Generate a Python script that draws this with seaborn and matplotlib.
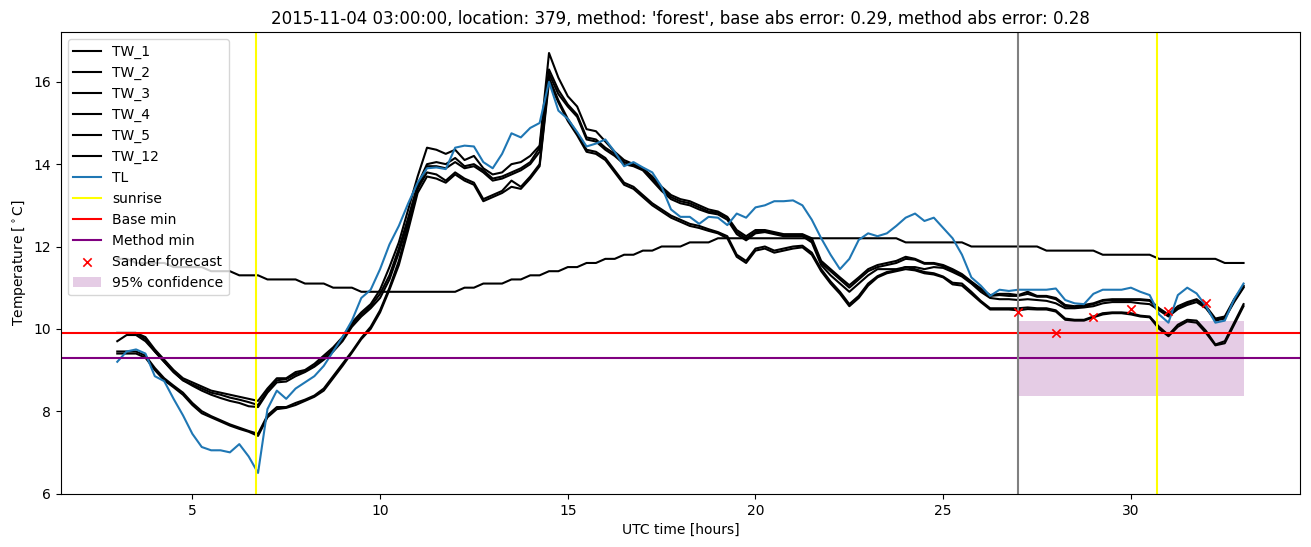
import numpy as np
import pandas as pd
import matplotlib
matplotlib.use("Agg")
import matplotlib.pyplot as plt
import seaborn as sns

# sampling grid: every 15 minutes from 03:00 to 33:00 UTC
hours = 3.0 + 0.25 * np.arange(121)

TW_1 = [9.9, 9.9, 9.9, 9.8,  9.5, 9.25, 9.0, 8.8,  8.7, 8.6, 8.5, 8.45,  8.4, 8.35, 8.3, 8.25,
        8.55, 8.8, 8.8, 8.95,  9.0, 9.15, 9.35, 9.55,  9.8, 10.15, 10.4, 10.6,  10.95, 11.5, 12.1, 12.9,
        13.7, 14.4, 14.35, 14.25,  14.35, 14.1, 14.2, 13.9,  13.75, 13.8, 14.0, 14.05,  14.2, 14.45, 16.7, 16.1,
        15.65, 15.4, 14.85, 14.8,  14.55, 14.3, 14.1, 14.0,  13.9, 13.7, 13.45, 13.25,  13.15, 13.1, 13.0, 12.9,
        12.85, 12.72, 12.4, 12.25,  12.4, 12.4, 12.35, 12.3,  12.3, 12.3, 12.2, 11.65,  11.45, 11.25, 11.06, 11.25,
        11.45, 11.55, 11.6, 11.65,  11.75, 11.7, 11.6, 11.6,  11.55, 11.45, 11.33, 11.15,  10.98, 10.82, 10.85, 10.85,
        10.82, 10.9, 10.8, 10.8,  10.75, 10.58, 10.55, 10.58,  10.62, 10.7, 10.72, 10.72,  10.72, 10.72, 10.7, 10.5,
        10.35, 10.55, 10.65, 10.72,  10.55, 10.25, 10.3, 10.72,  11.05]
TW_2 = [9.9, 9.9, 9.9, 9.75,  9.45, 9.2, 8.95, 8.75,  8.65, 8.55, 8.45, 8.4,  8.33, 8.28, 8.22, 8.15,
        8.5, 8.75, 8.78, 8.9,  8.98, 9.1, 9.3, 9.5,  9.75, 10.1, 10.35, 10.55,  10.85, 11.3, 11.95, 12.7,
        13.5, 14.0, 14.05, 14.0,  14.15, 13.95, 14.0, 13.85,  13.65, 13.7, 13.8, 13.9,  14.05, 14.4, 16.3, 15.8,
        15.45, 15.2, 14.65, 14.6,  14.4, 14.25, 14.05, 13.98,  13.88, 13.65, 13.4, 13.2,  13.1, 13.05, 12.95, 12.85,
        12.82, 12.7, 12.35, 12.2,  12.35, 12.38, 12.32, 12.28,  12.28, 12.28, 12.15, 11.6,  11.4, 11.2, 11.0, 11.2,
        11.4, 11.5, 11.55, 11.6,  11.7, 11.68, 11.58, 11.58,  11.52, 11.42, 11.3, 11.12,  10.95, 10.8, 10.82, 10.8,
        10.8, 10.85, 10.78, 10.78,  10.72, 10.55, 10.52, 10.55,  10.6, 10.68, 10.7, 10.7,  10.7, 10.7, 10.68, 10.48,
        10.32, 10.5, 10.62, 10.7,  10.52, 10.22, 10.28, 10.68,  11.02]
TW_3 = [9.7, 9.85, 9.85, 9.7,  9.45, 9.2, 8.95, 8.75,  8.62, 8.5, 8.4, 8.32,  8.25, 8.2, 8.12, 8.1,
        8.45, 8.7, 8.72, 8.85,  8.95, 9.08, 9.25, 9.45,  9.7, 10.05, 10.3, 10.5,  10.75, 11.2, 11.85, 12.6,
        13.4, 13.95, 13.95, 13.9,  14.05, 13.9, 13.95, 13.8,  13.6, 13.65, 13.75, 13.85,  14.0, 14.3, 16.2, 15.7,
        15.4, 15.15, 14.6, 14.55,  14.35, 14.2, 14.0, 13.95,  13.85, 13.6, 13.35, 13.15,  13.05, 13.0, 12.9, 12.82,
        12.78, 12.65, 12.3, 12.15,  12.32, 12.35, 12.3, 12.25,  12.25, 12.25, 12.1, 11.55,  11.3, 11.1, 10.9, 11.1,
        11.3, 11.45, 11.45, 11.45,  11.5, 11.5, 11.45, 11.5,  11.48, 11.38, 11.27, 11.1,  10.9, 10.75, 10.72, 10.72,
        10.7, 10.72, 10.7, 10.68,  10.62, 10.5, 10.5, 10.52,  10.55, 10.62, 10.65, 10.65,  10.65, 10.62, 10.6, 10.45,
        10.3, 10.48, 10.58, 10.65,  10.5, 10.2, 10.25, 10.65,  11.0]
TW_4 = [9.45, 9.45, 9.45, 9.35,  9.05, 8.8, 8.62, 8.45,  8.2, 8.0, 7.88, 7.78,  7.68, 7.6, 7.52, 7.45,
        7.9, 8.1, 8.1, 8.2,  8.28, 8.38, 8.55, 8.85,  9.15, 9.45, 9.78, 10.05,  10.45, 11.0, 11.65, 12.5,
        13.4, 13.8, 13.75, 13.6,  13.8, 13.65, 13.55, 13.15,  13.25, 13.35, 13.6, 13.45,  13.7, 14.0, 16.1, 15.55,
        15.1, 14.75, 14.35, 14.3,  14.15, 13.85, 13.55, 13.45,  13.25, 13.05, 12.9, 12.75,  12.65, 12.55, 12.5, 12.42,
        12.35, 12.25, 11.8, 11.65,  11.95, 12.0, 11.9, 11.95,  12.0, 12.02, 11.85, 11.45,  11.15, 10.9, 10.6, 10.8,
        11.1, 11.28, 11.38, 11.42,  11.5, 11.45, 11.38, 11.35,  11.27, 11.12, 11.1, 10.9,  10.68, 10.5, 10.5, 10.5,
        10.5, 10.52, 10.5, 10.5,  10.45, 10.25, 10.22, 10.22,  10.3, 10.38, 10.4, 10.4,  10.38, 10.32, 10.3, 10.05,
        9.85, 10.1, 10.22, 10.2,  9.95, 9.62, 9.7, 10.15,  10.6]
TW_5 = [9.4, 9.4, 9.4, 9.3,  9.0, 8.75, 8.58, 8.4,  8.15, 7.95, 7.85, 7.75,  7.65, 7.57, 7.5, 7.4,
        7.85, 8.05, 8.08, 8.15,  8.25, 8.35, 8.5, 8.8,  9.1, 9.42, 9.75, 10.0,  10.4, 10.95, 11.55, 12.4,
        13.3, 13.7, 13.65, 13.55,  13.75, 13.6, 13.5, 13.1,  13.2, 13.3, 13.45, 13.4,  13.65, 13.95, 16.0, 15.5,
        15.05, 14.7, 14.3, 14.25,  14.1, 13.8, 13.5, 13.4,  13.2, 13.0, 12.85, 12.7,  12.6, 12.5, 12.45, 12.38,
        12.32, 12.2, 11.75, 11.6,  11.9, 11.95, 11.85, 11.9,  11.95, 11.98, 11.8, 11.4,  11.1, 10.85, 10.55, 10.75,
        11.05, 11.25, 11.35, 11.4,  11.45, 11.42, 11.35, 11.32,  11.25, 11.08, 11.05, 10.85,  10.65, 10.47, 10.47, 10.47,
        10.45, 10.48, 10.47, 10.47,  10.42, 10.22, 10.2, 10.2,  10.28, 10.35, 10.38, 10.38,  10.35, 10.3, 10.28, 10.0,
        9.82, 10.05, 10.18, 10.15,  9.9, 9.6, 9.65, 10.1,  10.55]
TW_12 = [11.7, 11.7, 11.6, 11.6,  11.6, 11.6, 11.5, 11.5,  11.5, 11.5, 11.4, 11.4,  11.4, 11.3, 11.3, 11.3,
         11.2, 11.2, 11.2, 11.2,  11.1, 11.1, 11.1, 11.0,  11.0, 11.0, 10.9, 10.9,  10.9, 10.9, 10.9, 10.9,
         10.9, 10.9, 10.9, 10.9,  10.9, 11.0, 11.0, 11.1,  11.1, 11.1, 11.2, 11.2,  11.3, 11.3, 11.4, 11.4,
         11.5, 11.5, 11.6, 11.6,  11.7, 11.7, 11.8, 11.8,  11.9, 11.9, 12.0, 12.0,  12.0, 12.1, 12.1, 12.1,
         12.2, 12.2, 12.2, 12.2,  12.2, 12.2, 12.2, 12.2,  12.2, 12.2, 12.2, 12.2,  12.2, 12.2, 12.2, 12.2,
         12.2, 12.2, 12.2, 12.2,  12.1, 12.1, 12.1, 12.1,  12.1, 12.1, 12.1, 12.0,  12.0, 12.0, 12.0, 12.0,
         12.0, 12.0, 12.0, 11.9,  11.9, 11.9, 11.9, 11.9,  11.9, 11.8, 11.8, 11.8,  11.8, 11.8, 11.8, 11.7,
         11.7, 11.7, 11.7, 11.7,  11.7, 11.7, 11.6, 11.6,  11.6]
TL = [9.2, 9.45, 9.5, 9.4,  8.85, 8.73, 8.3, 7.9,  7.45, 7.13, 7.05, 7.05,  7.0, 7.2, 6.9, 6.5,
      8.05, 8.5, 8.3, 8.55,  8.7, 8.85, 9.1, 9.45,  9.8, 10.2, 10.75, 10.95,  11.45, 12.05, 12.5, 13.05,
      13.55, 13.9, 13.92, 13.88,  14.4, 14.45, 14.43, 14.05,  13.9, 14.25, 14.75, 14.65,  14.88, 15.0, 16.0, 15.3,
      15.1, 14.78, 14.43, 14.5,  14.6, 14.3, 13.95, 14.05,  13.92, 13.8, 13.45, 12.9,  12.72, 12.72, 12.55, 12.72,
      12.7, 12.52, 12.8, 12.7,  12.95, 13.0, 13.1, 13.1,  13.12, 13.0, 12.65, 12.2,  11.8, 11.45, 11.7, 12.16,
      12.32, 12.25, 12.32, 12.5,  12.7, 12.8, 12.62, 12.7,  12.45, 12.2, 11.8, 11.25,  11.05, 10.8, 10.95, 10.92,
      10.95, 10.95, 10.95, 10.95,  10.98, 10.7, 10.62, 10.6,  10.85, 10.95, 10.95, 10.95,  11.0, 10.9, 10.82, 10.35,
      10.15, 10.82, 11.0, 10.86,  10.55, 10.15, 10.2, 10.72,  11.1]

tw_names = ["TW_1", "TW_2", "TW_3", "TW_4", "TW_5", "TW_12"]
tw_values = [TW_1, TW_2, TW_3, TW_4, TW_5, TW_12]

sunrise_hours = [6.7, 30.7]
forecast_hour = 27.0
base_min = 9.9
method_min = 9.3
sander_hours = [27, 28, 29, 30, 31, 32]
sander_values = [10.4, 9.9, 10.28, 10.48, 10.43, 10.62]
conf_hours = [27.0, 33.0]
conf_low = 8.37
conf_high = 10.19

title = ("2015-11-04 03:00:00, location: 379, method: 'forest', "
         "base abs error: 0.29, method abs error: 0.28")

fig, ax = plt.subplots(figsize=(13.11, 5.47), dpi=100)
fig.subplots_adjust(left=0.0465, right=0.9915, top=0.9415, bottom=0.097)

for name, vals in zip(tw_names, tw_values):
    sns.lineplot(x=hours, y=vals, color="black", label=name, ax=ax)
sns.lineplot(x=hours, y=TL, color="#1f77b4", label="TL", ax=ax)
ax.axvline(sunrise_hours[0], color="yellow", label="sunrise")
ax.axvline(sunrise_hours[1], color="yellow")
ax.axhline(base_min, color="red", label="Base min")
ax.axhline(method_min, color="purple", label="Method min")
ax.axvline(forecast_hour, color="gray")
sns.scatterplot(x=sander_hours, y=sander_values, marker="x", color="red",
                label="Sander forecast", ax=ax, zorder=3, linewidth=1.2)
ax.fill_between(conf_hours, conf_low, conf_high, color="purple", alpha=0.2,
                linewidth=0, label="95% confidence")

ax.set_xlim(1.5, 34.5)
ax.set_ylim(5.99, 17.21)
ax.set_title(title)
ax.set_xlabel("UTC time [hours]")
ax.set_ylabel(r"Temperature [$^\circ$C]")
ax.legend(loc="upper left")

fig.savefig("out.png", dpi=100)
